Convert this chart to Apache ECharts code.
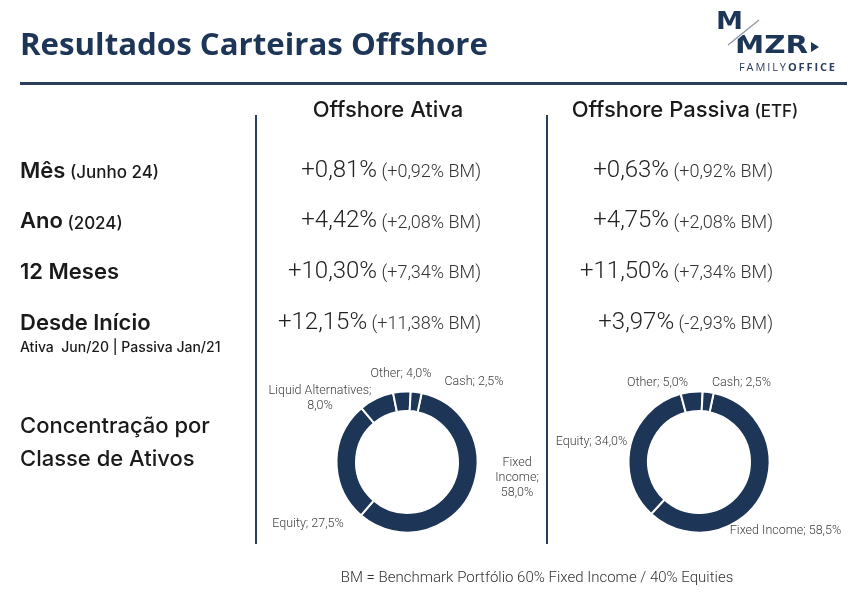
<!DOCTYPE html>
<html><head><meta charset="utf-8">
<script src="https://cdn.jsdelivr.net/npm/echarts@6/dist/echarts.min.js"></script>
<style>html,body{margin:0;padding:0;background:#fff}#c{width:863px;height:600px}</style>
</head><body><div id="c"></div>
<script>
const title = 'Resultados Carteiras Offshore';
const columnHeaders = ['Offshore Ativa', 'Offshore Passiva'];
const columnHeaderNotes = ['', '(ETF)'];
const rowLabels = ['Mês', 'Ano', '12 Meses', 'Desde Início'];
const rowNotes = ['(Junho 24)', '(2024)', '', ''];
const startNote = 'Ativa  Jun/20 | Passiva Jan/21';
const ativaReturns = ['+0,81%', '+4,42%', '+10,30%', '+12,15%'];
const ativaBenchmarks = ['(+0,92% BM)', '(+2,08% BM)', '(+7,34% BM)', '(+11,38% BM)'];
const passivaReturns = ['+0,63%', '+4,75%', '+11,50%', '+3,97%'];
const passivaBenchmarks = ['(+0,92% BM)', '(+2,08% BM)', '(+7,34% BM)', '(-2,93% BM)'];
const ativaClasses = ['Fixed Income', 'Equity', 'Liquid Alternatives', 'Other', 'Cash'];
const ativaShares = [58.0, 27.5, 8.0, 4.0, 2.5];
const passivaClasses = ['Fixed Income', 'Equity', 'Other', 'Cash'];
const passivaShares = [58.5, 34.0, 5.0, 2.5];
const sectionLabel = ['Concentração por', 'Classe de Ativos'];
const footnote = 'BM = Benchmark Portfólio 60% Fixed Income / 40% Equities';

const NAVY = '#1d3557';
const cv = document.createElement('canvas').getContext('2d');
function tw(t, font) { cv.font = font; return cv.measureText(t).width; }

const F_LABEL = '500 22px Inter';
const F_ROW = '600 22px Inter';
const F_NOTE = '500 17px Inter';
const F_VAL = '300 24px Roboto';
const F_BM = '300 18px Roboto';

function txt(text, x, baseline, font, size, fill, align, extra) {
  const y = baseline - 0.35 * size;
  return Object.assign({ type: 'text', x: x, y: y, silent: true,
    style: { text: text, font: font, fill: fill, align: align || 'left', textAlign: align || 'left',
      verticalAlign: 'middle', textVerticalAlign: 'middle' } }, extra || {});
}

const g = [];
const F_TITLE = '700 31px "Open Sans"';
g.push(txt(title, 20, 57, F_TITLE, 31, NAVY, 'left', { scaleX: 468 / tw(title, F_TITLE) }));
g.push({ type: 'rect', shape: { x: 20, y: 82, width: 827, height: 3 }, style: { fill: '#2b3d5c' }, silent: true });
g.push({ type: 'rect', shape: { x: 255, y: 115, width: 2, height: 429 }, style: { fill: '#2b3d5c' }, silent: true });
g.push({ type: 'rect', shape: { x: 546, y: 115, width: 2, height: 429 }, style: { fill: '#2b3d5c' }, silent: true });

// headers
const headerCenters = [388, 685];
columnHeaders.forEach((h, i) => {
  const w1 = tw(h, F_LABEL);
  const note = columnHeaderNotes[i];
  const w2 = note ? tw(' ' + note, F_NOTE) : 0;
  const x0 = headerCenters[i] - (w1 + w2) / 2;
  g.push(txt(h, x0, 118, F_LABEL, 22, '#1a1a1a'));
  if (note) g.push(txt(' ' + note, x0 + w1, 118, F_NOTE, 17, '#1a1a1a'));
});

// rows
const baselines = [179, 229.5, 280, 331];
rowLabels.forEach((r, i) => {
  g.push(txt(r, 20, baselines[i], F_ROW, 22, '#1a1a1a'));
  if (rowNotes[i]) g.push(txt(' ' + rowNotes[i], 20 + tw(r, F_ROW), baselines[i], F_NOTE, 17, '#1a1a1a'));
});
g.push(txt(startNote, 20, 353, '500 14px Inter', 14, '#1a1a1a'));

function valueRow(ret, bm, right, baseline) {
  const wb = tw(' ' + bm, F_BM);
  g.push(txt(' ' + bm, right, baseline, F_BM, 18, '#333', 'right'));
  g.push(txt(ret, right - wb, baseline, F_VAL, 24, '#222', 'right'));
}
ativaReturns.forEach((v, i) => valueRow(v, ativaBenchmarks[i], 481, baselines[i]));
passivaReturns.forEach((v, i) => valueRow(v, passivaBenchmarks[i], 773, baselines[i]));

g.push(txt(sectionLabel[0], 20, 434, F_LABEL, 22, '#1a1a1a'));
g.push(txt(sectionLabel[1], 20, 467, F_LABEL, 22, '#1a1a1a'));

g.push(txt(footnote, 537, 583, '300 15px Roboto', 15, '#333', 'center'));

// logo
const F_LOGO = '700 24px "DejaVu Sans"';
g.push(txt('M', 716, 31.5, F_LOGO, 24, NAVY, 'left', { scaleX: 27 / tw('M', F_LOGO) }));
g.push(txt('MZR', 735, 55.5, F_LOGO, 24, NAVY, 'left', { scaleX: 73 / tw('MZR', F_LOGO) }));
g.push({ type: 'line', shape: { x1: 728, y1: 45, x2: 759, y2: 20 }, style: { stroke: '#fff', lineWidth: 3 }, silent: true });
g.push({ type: 'line', shape: { x1: 728, y1: 45, x2: 759, y2: 20 }, style: { stroke: '#8a94a6', lineWidth: 1.2 }, silent: true });
g.push({ type: 'polygon', shape: { points: [[811, 42], [819, 47], [811, 52]] }, style: { fill: NAVY }, silent: true });
(function () {
  const chars = 'FAMILYOFFICE'.split('');
  let x = 739;
  chars.forEach((c, i) => {
    const f = (i < 6 ? '400' : '700') + ' 11px "Open Sans"';
    g.push(txt(c, x, 72, f, 11, '#2b3d5c'));
    x += tw(c, f) + 1.9;
  });
})();

function fmtPct(v) { return v.toFixed(1).replace('.', ',') + '%'; }
const ativaWrap = { 'Fixed Income': 'Fixed\nIncome;\n', 'Liquid Alternatives': 'Liquid Alternatives;\n' };
const passivaWrap = {};
// label anchor offsets from each donut centre (layout)
const ativaLabelOffsets = [[110, 16], [-99, 62], [-87, -64], [-6, -88], [67, -80]];
const passivaLabelOffsets = [[86.5, 69], [-107.5, -20], [-41.5, -79], [42.5, -79]];

function pieSeries(names, shares, center, wrap, offsets) {
  return {
    type: 'pie', center: center, radius: [51, 70.5], startAngle: 78, clockwise: true,
    silent: true, animation: false, avoidLabelOverlap: false,
    data: names.map((n, i) => ({ name: n, value: shares[i] })),
    itemStyle: { color: NAVY, borderColor: '#fff', borderWidth: 2 },
    label: { show: true, position: 'outside', color: '#404040', fontFamily: 'Roboto', fontWeight: 300,
      fontSize: 12.5, lineHeight: 15, align: 'center', overflow: 'none',
      formatter: p => (wrap[p.name] || (p.name + '; ')) + fmtPct(p.value) },
    labelLine: { show: false, length: 6, length2: 0 },
    labelLayout: p => ({ x: center[0] + offsets[p.dataIndex][0], y: center[1] + offsets[p.dataIndex][1],
      align: 'center', verticalAlign: 'middle' })
  };
}

const chart = echarts.init(document.getElementById('c'), null, { renderer: 'canvas' });
chart.setOption({
  animation: false,
  graphic: g,
  series: [
    pieSeries(ativaClasses, ativaShares, [407, 462], ativaWrap, ativaLabelOffsets),
    pieSeries(passivaClasses, passivaShares, [699, 462], passivaWrap, passivaLabelOffsets)
  ]
});
</script></body></html>
